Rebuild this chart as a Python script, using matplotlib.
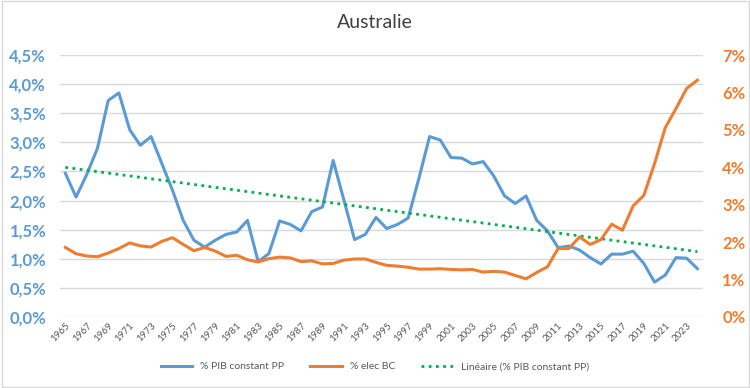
import numpy as np
import matplotlib
matplotlib.use("Agg")
import matplotlib.pyplot as plt
from matplotlib.patches import Rectangle

plt.rcParams['font.family'] = ['Lato', 'DejaVu Sans']

years = list(range(1965, 2025))
pib = [2.47, 2.06, 2.45, 2.90, 3.72, 3.85, 3.22, 2.95, 3.10, 2.64,
       2.18, 1.66, 1.32, 1.20, 1.32, 1.42, 1.46, 1.66, 0.95, 1.09,
       1.65, 1.59, 1.48, 1.81, 1.89, 2.69, 2.01, 1.33, 1.42, 1.71,
       1.52, 1.59, 1.70, 2.38, 3.10, 3.04, 2.74, 2.73, 2.63, 2.67,
       2.42, 2.08, 1.95, 2.08, 1.66, 1.48, 1.19, 1.22, 1.15, 1.02,
       0.91, 1.08, 1.08, 1.13, 0.92, 0.60, 0.72, 1.02, 1.01, 0.83]
elec = [1.86, 1.69, 1.63, 1.61, 1.71, 1.83, 1.98, 1.90, 1.87, 2.02,
        2.12, 1.94, 1.77, 1.86, 1.76, 1.62, 1.65, 1.53, 1.47, 1.56,
        1.60, 1.58, 1.48, 1.50, 1.42, 1.43, 1.52, 1.55, 1.55, 1.46,
        1.38, 1.36, 1.33, 1.28, 1.28, 1.29, 1.27, 1.26, 1.27, 1.20,
        1.22, 1.20, 1.11, 1.02, 1.19, 1.34, 1.83, 1.83, 2.14, 1.94,
        2.07, 2.48, 2.32, 2.97, 3.25, 4.10, 5.06, 5.57, 6.11, 6.33]

left_ticks = [0, 0.5, 1.0, 1.5, 2.0, 2.5, 3.0, 3.5, 4.0, 4.5]
right_ticks = [0, 1, 2, 3, 4, 5, 6, 7]

blue = '#5B9BD5'
orange = '#ED7D31'
green = '#00B050'

fig = plt.figure(figsize=(7.5, 3.88), dpi=100)
fig.patches.append(Rectangle((0.002, 0.003), 0.996, 0.994, transform=fig.transFigure,
                             fill=False, edgecolor='#D9D9D9', linewidth=1))
ax = fig.add_axes([0.08, 0.183, 0.857, 0.675])
ax2 = ax.twinx()

x = np.array(years)
ax.plot(x, pib, color=blue, linewidth=2.2, label='% PIB constant PP', zorder=3)
ax2.plot(x, elec, color=orange, linewidth=2.2, label='% elec BC', zorder=3)
coef = np.polyfit(x, pib, 1)
ax.plot(x, np.polyval(coef, x), color=green, linewidth=2, linestyle=(0, (1, 1.6)),
        label='Linéaire (% PIB constant PP)', zorder=4)

ax.set_xlim(1964.5, 2024.5)
ax.set_ylim(0, 4.5)
ax2.set_ylim(0, 7)
ax.set_yticks(left_ticks)
ax.set_yticklabels([f"{v:.1f}%".replace('.', ',') for v in left_ticks])
ax2.set_yticks(right_ticks)
ax2.set_yticklabels([f"{v}%" for v in right_ticks])
ax.set_xticks(years[::2])
ax.set_xticklabels([str(y) for y in years[::2]], rotation=45, ha='right',
                   rotation_mode='anchor', fontsize=7, color='#595959')

ax.grid(axis='y', color='#D9D9D9', linewidth=1)
ax.set_axisbelow(True)
for a in (ax, ax2):
    for s in a.spines.values():
        s.set_visible(False)
    a.tick_params(length=0)
ax.tick_params(axis='y', colors=blue, labelsize=12, pad=10)
ax2.tick_params(axis='y', colors=orange, labelsize=12, pad=14)
for t in ax.get_yticklabels():
    t.set_fontweight('bold')
for t in ax2.get_yticklabels():
    t.set_fontweight('bold')
ax.tick_params(axis='x', pad=3)

fig.suptitle('Australie', y=0.965, fontsize=14, color='#404040')

h1, l1 = ax.get_legend_handles_labels()
h2, l2 = ax2.get_legend_handles_labels()
handles = [h1[0], h2[0], h1[1]]
labels = [l1[0], l2[0], l1[1]]
fig.legend(handles, labels, loc='center', bbox_to_anchor=(0.5, 0.055), ncol=3,
           frameon=False, fontsize=7.5, labelcolor='#595959', handlelength=3,
           columnspacing=2.5)

fig.savefig('out.png', dpi=100)
